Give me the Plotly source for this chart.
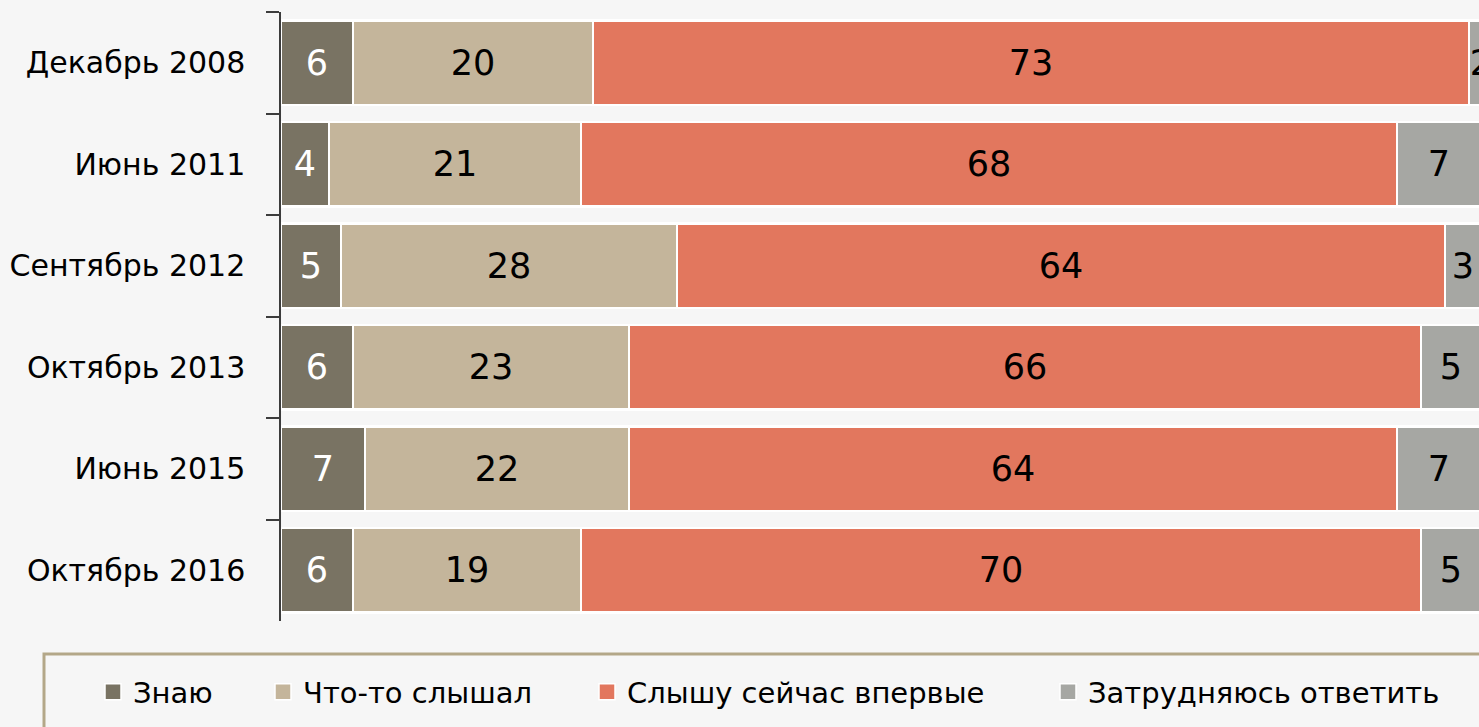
import plotly.graph_objects as go

categories = ["Декабрь 2008", "Июнь 2011", "Сентябрь 2012", "Октябрь 2013", "Июнь 2015", "Октябрь 2016"]
series_names = ["Знаю", "Что-то слышал", "Слышу сейчас впервые", "Затрудняюсь ответить"]
know = [6, 4, 5, 6, 7, 6]
heard = [20, 21, 28, 23, 22, 19]
first_time = [73, 68, 64, 66, 64, 70]
hard_to_say = [2, 7, 3, 5, 7, 5]

series_values = [know, heard, first_time, hard_to_say]
colors = ["#797363", "#c4b59b", "#e2775e", "#a6a7a3"]
text_colors = ["#ffffff", "#000000", "#000000", "#000000"]

W, H = 1479, 727
L, R, T, B = 281, 0, 12, 106
plot_w = W - L - R
plot_h = H - T - B
px_per_unit = 12.0

def px_to_paper_x(px):
    return (px - L) / plot_w

def px_to_paper_y(py):
    return (H - B - py) / plot_h

FONT = "DejaVu Sans"

fig = go.Figure()
legend_left_px = [93, 263, 587, 1048]
for i, (name, vals) in enumerate(zip(series_names, series_values)):
    fig.add_trace(go.Bar(
        y=categories, x=vals, name=name, orientation="h",
        marker=dict(color=colors[i], line=dict(color="#ffffff", width=2.5)),
        texttemplate="%{x}", textposition="inside", insidetextanchor="middle",
        constraintext="none",
        insidetextfont=dict(family=FONT, size=35, color=text_colors[i]),
        showlegend=False, hoverinfo="skip",
    ))

# legend entries (larger square swatches, like the original)
for i, name in enumerate(series_names):
    lg = "legend" if i == 0 else f"legend{i + 1}"
    fig.add_trace(go.Scatter(
        x=[None], y=[None], mode="markers", name=name,
        marker=dict(symbol="square", size=18, color=colors[i],
                    line=dict(color="#ffffff", width=1.5)),
        legend=lg, showlegend=True, hoverinfo="skip",
    ))

layout_legends = {}
for i, lx in enumerate(legend_left_px):
    key = "legend" if i == 0 else f"legend{i + 1}"
    layout_legends[key] = dict(
        x=px_to_paper_x(lx), xanchor="left",
        y=px_to_paper_y(692), yanchor="middle",
        bgcolor="rgba(0,0,0,0)", borderwidth=0,
        font=dict(family=FONT, size=29, color="#000000"),
        orientation="h", itemwidth=30,
    )

fig.update_layout(
    width=W, height=H,
    margin=dict(l=L, r=R, t=T, b=B, autoexpand=False),
    barmode="stack", bargap=0.17,
    paper_bgcolor="#f6f6f6", plot_bgcolor="#f6f6f6",
    showlegend=True,
    xaxis=dict(range=[0, plot_w / px_per_unit], visible=False, fixedrange=True),
    yaxis=dict(
        type="category", autorange="reversed",
        showline=True, linecolor="#3c3c3c", linewidth=1.5,
        ticks="outside", tickson="boundaries", ticklen=13, tickwidth=1.5, tickcolor="#3c3c3c",
        ticklabelstandoff=28,
        tickfont=dict(family=FONT, size=30, color="#000000"),
        showgrid=False, zeroline=False, fixedrange=True,
    ),
    shapes=[dict(
        type="rect", xref="paper", yref="paper", layer="above",
        x0=px_to_paper_x(44), x1=px_to_paper_x(W + 50),
        y0=px_to_paper_y(654), y1=px_to_paper_y(H + 50),
        line=dict(color="#b3a788", width=3), fillcolor="rgba(0,0,0,0)",
    )],
    **layout_legends,
)

fig.write_html("out.html", config={"displayModeBar": False},
               post_script="document.body.style.margin='0';")
